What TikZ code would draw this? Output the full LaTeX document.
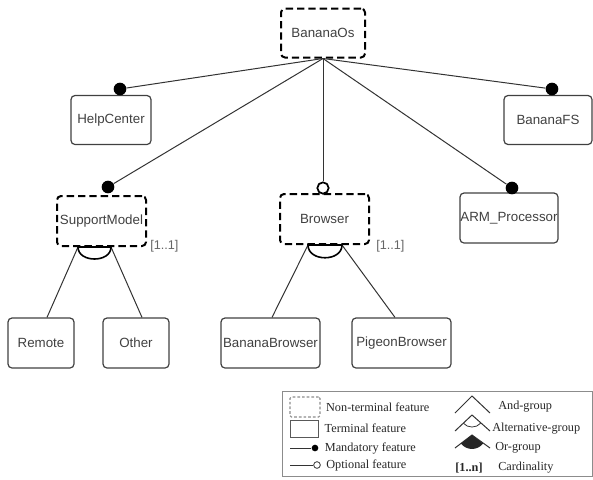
\documentclass[tikz,border=0pt]{standalone}
\usepackage{fontspec}
\setmainfont{Liberation Sans}
\newfontfamily\legfont{Liberation Serif}
\usetikzlibrary{positioning, calc}
\definecolor{ink}{RGB}{64,64,64}
\definecolor{leggray}{RGB}{140,140,140}

\begin{document}
\begin{tikzpicture}[
  x=0.75pt, y=-0.75pt,
  feat/.style={draw=black!75,line width=0.9pt,rounded corners=3pt,inner sep=0pt,
    minimum height=37.5pt,font=\fontsize{10}{12}\selectfont,text=ink},
  nonterm/.style={feat,draw=black,line width=1.5pt,dash pattern=on 5.5pt off 3pt},
  mand/.style={circle,fill=black,inner sep=0pt,minimum size=9.5pt},
  opt/.style={circle,draw=black,fill=white,line width=1.3pt,inner sep=0pt,minimum size=8.5pt},
  link/.style={draw=black!80,line width=0.75pt},
  grp/.style={draw=black,line width=1.2pt},
  card/.style={font=\fontsize{9.5}{11}\selectfont,text=black!60,inner sep=0pt,anchor=west},
  legtext/.style={font=\legfont\fontsize{9.2}{11}\selectfont,text=black!85,inner sep=0pt,anchor=west}
]
\useasboundingbox (0,0) rectangle (593,479);

% features
\node[nonterm,minimum width=63pt,minimum height=36.75pt] (root) at (323,33) {BananaOs};
\node[feat,minimum width=60pt,minimum height=36.75pt] (help) at (111,120) {HelpCenter};
\node[feat,minimum width=66pt,minimum height=36.75pt] (fs) at (548,120) {BananaFS};
\node[nonterm,minimum width=66.75pt] (sm) at (101.5,221) {SupportModel};
\node[nonterm,minimum width=66.75pt] (br) at (324.5,219) {Browser};
\node[feat,minimum width=73.5pt] (arm) at (509,218) {ARM\_Processor};
\node[feat,minimum width=49.5pt] (remote) at (41,343) {Remote};
\node[feat,minimum width=49.5pt] (other) at (136,343) {Other};
\node[feat,minimum width=74.25pt] (bb) at (270.5,343) {BananaBrowser};
\node[feat,minimum width=74.25pt] (pb) at (401.5,343) {PigeonBrowser};

% mandatory / optional ends
\node[mand] (helpdot) at (120,89) {};
\node[mand] (fsdot) at (552,89) {};
\node[mand] (smdot) at (108,187) {};
\node[mand] (armdot) at (512,188) {};
\node[opt] (bropt) at (323,188) {};

\draw[link] (root.south) -- (helpdot);
\draw[link] (root.south) -- (fsdot);
\draw[link] (root.south) -- (smdot);
\draw[link] (root.south) -- (armdot);
\draw[link] (root.south) -- (bropt);

% alternative groups
\coordinate (smL) at ($(sm.south)+(-23.5,0)$);
\coordinate (smR) at ($(sm.south)+(9.5,0)$);
\coordinate (brL) at ($(br.south)+(-16.5,0)$);
\coordinate (brR) at ($(br.south)+(17.5,0)$);
\draw[link] (smL) -- ($(remote.north)+(6,0)$);
\draw[link] (smR) -- ($(other.north)+(6,0)$);
\draw[link] (brL) -- ($(bb.north)+(1.5,0)$);
\draw[link] (brR) -- ($(pb.north)+(-6.5,0)$);
\draw[grp] (smL) .. controls ($(smL)+(0,16)$) and ($(smR)+(0,16)$) .. (smR) -- cycle;
\draw[grp] (brL) .. controls ($(brL)+(0,17)$) and ($(brR)+(0,17)$) .. (brR) -- cycle;
\node[card] (smcard) at (150,246) {[1..1]};
\node[card] (brcard) at (376,246) {[1..1]};

% legend
\node[draw=leggray,line width=0.75pt,inner sep=0pt,minimum width=232.5pt,minimum height=63.75pt] (legend) at (437,433.5) {};
\node[draw=leggray,line width=0.8pt,dash pattern=on 2pt off 1.5pt,rounded corners=1pt,
  inner sep=0pt,minimum width=22.5pt,minimum height=15pt] (lnt) at (305,407) {};
\node[draw=black!65,line width=0.7pt,inner sep=0pt,minimum width=21pt,minimum height=12.75pt] (lt) at (304,428.5) {};
\coordinate (lm0) at (290,448);
\node[circle,fill=black,inner sep=0pt,minimum size=5pt] (lmd) at (315,448) {};
\draw[link] (lm0) -- (lmd);
\coordinate (lo0) at (290,465);
\node[circle,draw=black!80,fill=white,line width=0.6pt,inner sep=0pt,minimum size=5pt] (lod) at (317,465) {};
\draw[link] (lo0) -- (lod);
\node[legtext,right=4pt of lnt] (lntt) {Non-terminal feature};
\node[legtext,right=4.5pt of lt] (ltt) {Terminal feature};
\node[legtext,right=4.5pt of lmd] (lmt) {Mandatory feature};
\node[legtext,right=4pt of lod] (lot) {Optional feature};

\draw[link] (455,413) -- (472,396) -- (490,413);
\draw[link] (455,431) -- (472,415) -- (490,431);
\draw[link,line width=0.6pt] (463.3,423.2) .. controls (468,428.3) and (476,428.3) .. (480.7,423.2);
\draw[link] (455,448) -- (472,435) -- (490,448);
\fill[black!85] (472,435) -- (460.9,443.5) .. controls (466.5,450.8) and (477.5,450.8) .. (483.1,443.5) -- cycle;
\node[legtext] (landt) at (498,407) {And-group};
\node[legtext] (laltt) at (492,429) {Alternative-group};
\node[legtext] (lort) at (495,448) {Or-group};
\node[legtext,font=\legfont\bfseries\fontsize{9.2}{11}\selectfont,anchor=center] (lcard) at (469,468) {[1..n]};
\node[legtext] (lcardt) at (498,468) {Cardinality};
\end{tikzpicture}
\end{document}
